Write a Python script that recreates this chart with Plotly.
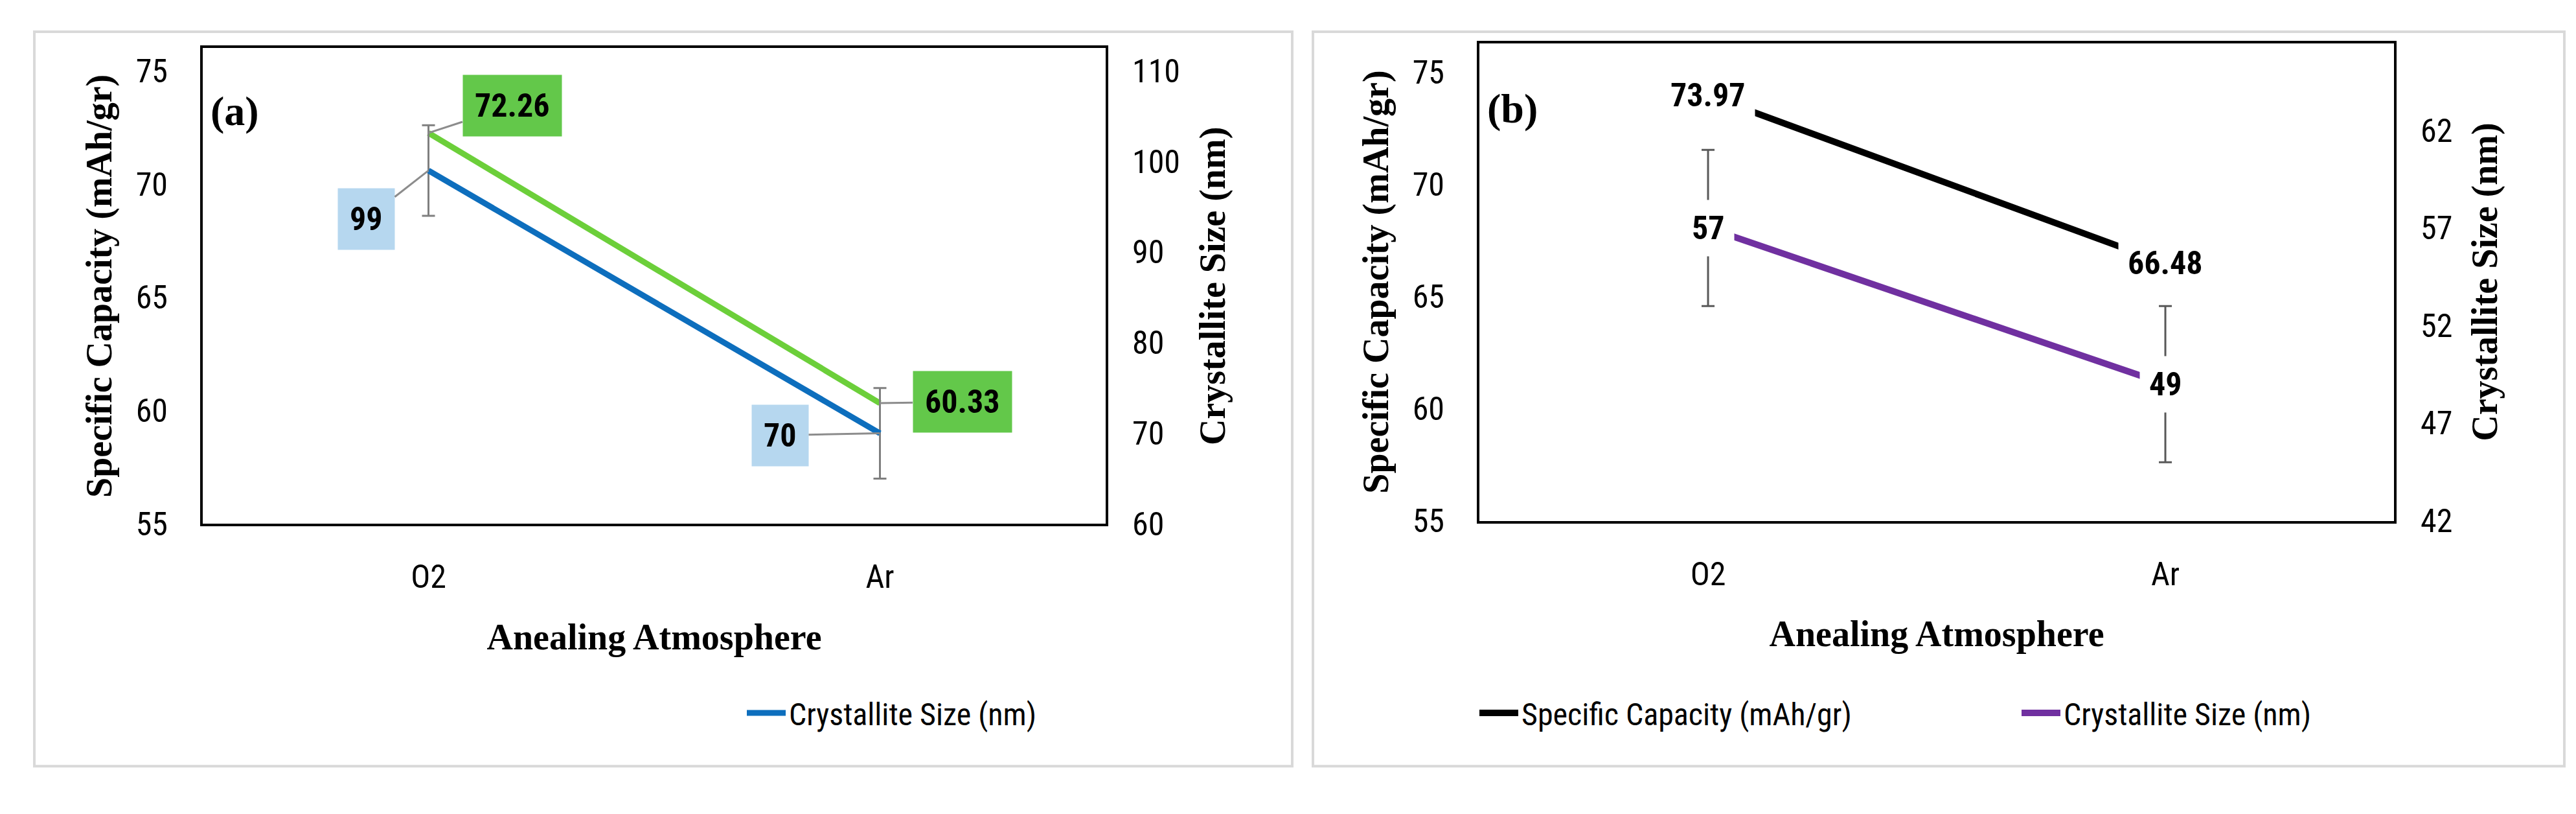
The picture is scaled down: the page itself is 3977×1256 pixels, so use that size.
import plotly.graph_objects as go

atmospheres = ['O2', 'Ar']

# panel (a)
cap_a = [72.26, 60.33]
size_a = [99, 70]
size_a_err = [5, 5]

# panel (b)
cap_b = [73.97, 66.48]
size_b = [57, 49]
size_b_err = [4, 4]

W, H = 3977, 1256
TICK = dict(family='Liberation Sans Narrow, Arial Narrow, Roboto Condensed, Roboto', size=50, color='black')
TITLE = dict(family='Liberation Serif, Times New Roman', size=56, color='black')
LEG = dict(family='Liberation Sans Narrow, Arial Narrow, Roboto Condensed, Roboto', size=48, color='black')

fig = go.Figure()

fig.add_trace(go.Scatter(x=atmospheres, y=cap_a, name='Specific Capacity (mAh/gr)', mode='lines',
                         line=dict(color='#6ccf3a', width=9), xaxis='x', yaxis='y', legend='legend'))
fig.add_trace(go.Scatter(x=atmospheres, y=size_a, name='Crystallite Size (nm)', mode='lines',
                         line=dict(color='#0d6ebd', width=9), xaxis='x', yaxis='y2', legend='legend2',
                         error_y=dict(type='data', array=size_a_err, color='#7f7f7f', thickness=3, width=10)))
fig.add_trace(go.Scatter(x=atmospheres, y=cap_b, name='Specific Capacity (mAh/gr)', mode='lines',
                         line=dict(color='black', width=10), xaxis='x2', yaxis='y3', legend='legend3'))
fig.add_trace(go.Scatter(x=atmospheres, y=size_b, name='Crystallite Size (nm)', mode='lines',
                         line=dict(color='#7030a0', width=10), xaxis='x2', yaxis='y4', legend='legend4',
                         error_y=dict(type='data', array=size_b_err, color='#595959', thickness=3, width=10)))


def xax(domain, anchor):
    return dict(domain=domain, anchor=anchor, type='category', range=[-0.5, 1.5],
                showline=True, linecolor='black', linewidth=4, mirror=True, showgrid=False,
                ticks='', tickfont=TICK, ticklabelstandoff=35,
                title=dict(text='<b>Anealing Atmosphere</b>', font=TITLE, standoff=45))


def yax(domain, anchor, rng, tick0, dtick, title, side='left', overlay=None):
    d = dict(domain=domain, anchor=anchor, range=rng, tick0=tick0, dtick=dtick, side=side,
             showgrid=False, zeroline=False, ticks='', tickfont=TICK, ticklabelstandoff=40,
             title=dict(text='<b>' + title + '</b>', font=TITLE, standoff=20 if side == 'left' else 30))
    if overlay:
        d['overlaying'] = overlay
        d['showline'] = False
    else:
        d.update(showline=True, linecolor='black', linewidth=4, mirror=True)
    return d


def leg(x):
    return dict(orientation='h', x=x / W, y=1 - 1119 / H, yanchor='middle', xanchor='left',
                font=LEG, itemwidth=60, bgcolor='rgba(0,0,0,0)')


dom_a = [1 - 820 / H, 1 - 68 / H]
dom_b = [1 - 815 / H, 1 - 60 / H]

fig.update_layout(
    width=W, height=H, margin=dict(l=0, r=0, t=0, b=0),
    paper_bgcolor='white', plot_bgcolor='white',
    xaxis=xax([305 / W, 1699 / W], 'y'),
    xaxis2=xax([2276 / W, 3688 / W], 'y3'),
    yaxis=yax(dom_a, 'x', [55, 76], 55, 5, 'Specific Capacity (mAh/gr)'),
    yaxis2=yax(dom_a, 'x', [60, 112.5], 60, 10, 'Crystallite Size (nm)', 'right', 'y'),
    yaxis3=yax(dom_b, 'x2', [55, 76.3], 55, 5, 'Specific Capacity (mAh/gr)'),
    yaxis4=yax(dom_b, 'x2', [42, 66.47], 42, 5, 'Crystallite Size (nm)', 'right', 'y3'),
    legend=leg(300), legend2=leg(1140), legend3=leg(2271), legend4=leg(3108),
    shapes=[
        dict(type='rect', xref='paper', yref='paper', x0=45 / W, x1=1987 / W, y0=1 - 1203 / H, y1=1 - 42 / H,
             line=dict(color='#d9d9d9', width=4), layer='below'),
        dict(type='rect', xref='paper', yref='paper', x0=2019 / W, x1=3951 / W, y0=1 - 1203 / H, y1=1 - 42 / H,
             line=dict(color='#d9d9d9', width=4), layer='below'),
    ],
)

LBL = dict(family='Liberation Sans Narrow, Arial Narrow, Roboto Condensed, Roboto', size=50, color='black')
anns = [
    dict(x='O2', y=cap_a[0], xref='x', yref='y', text='<b>%.2f</b>' % cap_a[0], ax=129, ay=-42,
         bgcolor='#63c84a', borderpad=18),
    dict(x='O2', y=size_a[0], xref='x', yref='y2', text='<b>%d</b>' % size_a[0], ax=-96, ay=75,
         bgcolor='#b6d7ef', borderpad=18),
    dict(x='Ar', y=cap_a[1], xref='x', yref='y', text='<b>%.2f</b>' % cap_a[1], ax=127, ay=-2,
         bgcolor='#63c84a', borderpad=18),
    dict(x='Ar', y=size_a[1], xref='x', yref='y2', text='<b>%d</b>' % size_a[1], ax=-154, ay=3,
         bgcolor='#b6d7ef', borderpad=18),
]
for a in anns:
    a.update(showarrow=True, arrowhead=0, arrowwidth=3, arrowcolor='#8c8c8c', font=LBL)
    fig.add_annotation(**a)

for i, xv in enumerate(atmospheres):
    fig.add_annotation(x=xv, y=cap_b[i], xref='x2', yref='y3', text='<b>%.2f</b>' % cap_b[i],
                       showarrow=False, bgcolor='white', borderpad=14, font=LBL)
    fig.add_annotation(x=xv, y=size_b[i], xref='x2', yref='y4', text='<b>%d</b>' % size_b[i],
                       showarrow=False, bgcolor='white', borderpad=14, font=LBL)

PANEL = dict(family='Liberation Serif, Times New Roman', size=64, color='black')
fig.add_annotation(x=315 / W, y=1 - 129 / H, xref='paper', yref='paper', text='<b>(a)</b>',
                   showarrow=False, xanchor='left', font=PANEL)
fig.add_annotation(x=2286 / W, y=1 - 125 / H, xref='paper', yref='paper', text='<b>(b)</b>',
                   showarrow=False, xanchor='left', font=PANEL)

fig.write_html('out.html')
